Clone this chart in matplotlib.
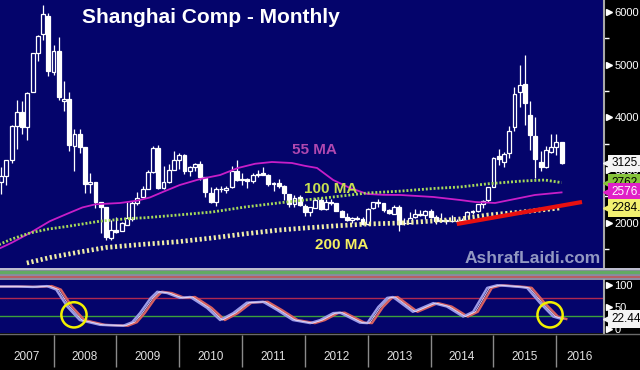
import matplotlib
matplotlib.use("Agg")
import matplotlib.pyplot as plt
import matplotlib.transforms as mtransforms
from matplotlib.patches import Rectangle
import numpy as np

plt.rcParams['font.family'] = ['Liberation Sans', 'DejaVu Sans']

# Shanghai Composite monthly candles, month 0 = Jan 2007 ... month 108 = Jan 2016
opens = [2715, 2780, 2881, 3197, 3845, 4101, 3822, 4477, 5221, 5583, 5915, 4868,
         5265, 4320, 4349, 3460, 3690, 3440, 2726, 2777, 2398, 2293, 1719, 1870,
         1849, 1960, 2076, 2376, 2486, 2640, 2963, 3420, 2661, 2781, 2997, 3190,
         3289, 2984, 3058, 3114, 2860, 2564, 2391, 2640, 2631, 2677, 2990, 2830,
         2825, 2799, 2899, 2937, 2912, 2743, 2760, 2706, 2550, 2350, 2480, 2323,
         2212, 2284, 2433, 2260, 2398, 2372, 2224, 2105, 2048, 2089, 2065, 1978,
         2289, 2385, 2371, 2234, 2175, 2305, 1998, 1996, 2101, 2170, 2141, 2215,
         2112, 2033, 2053, 2034, 2024, 2040, 2049, 2203, 2214, 2365, 2426, 2681,
         3258, 3148, 3328, 3810, 4479, 4633, 4053, 3643, 3157, 3062, 3337, 3441,
         3536]
highs = [2994, 3049, 3192, 3848, 4335, 4312, 4476, 5218, 5562, 6124, 5972, 5366,
         5522, 4695, 4473, 3786, 3786, 3440, 2952, 2780, 2399, 2293, 2046, 2100,
         2016, 2402, 2408, 2580, 2688, 3000, 3454, 3478, 3068, 3123, 3361, 3319,
         3306, 3080, 3130, 3181, 2860, 2687, 2683, 2690, 2689, 3073, 3186, 2939,
         2853, 2940, 3002, 3067, 2932, 2768, 2827, 2715, 2550, 2536, 2536, 2355,
         2301, 2478, 2478, 2454, 2453, 2373, 2234, 2192, 2109, 2132, 2113, 2276,
         2400, 2444, 2332, 2268, 2335, 2334, 2092, 2198, 2270, 2242, 2245, 2260,
         2150, 2177, 2071, 2146, 2062, 2087, 2222, 2248, 2364, 2431, 2683, 3239,
         3406, 3346, 3835, 4572, 4986, 5178, 4318, 4006, 3357, 3457, 3678, 3684,
         3539]
lows = [2605, 2541, 2723, 3143, 3404, 3690, 3563, 4476, 5070, 5462, 4778, 4812,
        4330, 4123, 3357, 2990, 3333, 2567, 2566, 2284, 1802, 1665, 1678, 1814,
        1844, 1960, 2037, 2340, 2484, 2640, 2942, 2639, 2639, 2760, 2994, 3020,
        2923, 2890, 2975, 2820, 2481, 2382, 2319, 2590, 2573, 2661, 2796, 2721,
        2661, 2759, 2861, 2900, 2698, 2611, 2660, 2437, 2307, 2307, 2319, 2134,
        2132, 2281, 2242, 2245, 2346, 2223, 2100, 2030, 1999, 2055, 1959, 1949,
        2264, 2295, 2202, 2161, 2166, 1849, 1951, 1988, 2093, 2123, 2075, 2082,
        1984, 2018, 1974, 2013, 1991, 2010, 2040, 2175, 2195, 2287, 2393, 2681,
        3095, 3049, 3230, 3744, 4199, 3847, 3373, 2850, 2983, 3039, 3327, 3284,
        3115]
closes = [2786, 2881, 3183, 3841, 4109, 3820, 4471, 5218, 5552, 5954, 4871, 5262,
          4383, 4348, 3473, 3693, 3433, 2736, 2775, 2397, 2293, 1729, 1871, 1821,
          1991, 2082, 2374, 2477, 2633, 2959, 3412, 2667, 2779, 2996, 3195, 3277,
          2989, 3051, 3110, 2871, 2592, 2398, 2638, 2638, 2656, 2979, 2820, 2808,
          2790, 2905, 2928, 2911, 2743, 2762, 2701, 2568, 2359, 2469, 2333, 2199,
          2292, 2428, 2263, 2397, 2373, 2225, 2103, 2047, 2086, 2069, 1980, 2269,
          2385, 2366, 2237, 2178, 2301, 1979, 1994, 2098, 2175, 2141, 2220, 2116,
          2033, 2056, 2033, 2026, 2039, 2048, 2202, 2217, 2364, 2420, 2683, 3235,
          3210, 3310, 3748, 4442, 4612, 4277, 3664, 3206, 3053, 3383, 3445, 3539,
          3125]
months = list(range(len(closes)))

# moving averages (month index, level)
ma55_m = [0, 3, 6.5, 10.3, 13.6, 16.5, 19, 23.7, 27, 29.4, 32, 35.1, 39, 42.8,
          46.2, 49.5, 52.7, 56.5, 59, 61.3, 64.4, 67.6, 70.9, 74, 77.2, 83.5,
          88.6, 91.5, 95.3, 99.1, 102.9, 108]
ma55_v = [1480, 1620, 1806, 2030, 2170, 2290, 2350, 2375, 2420, 2480, 2590, 2716,
          2830, 2906, 3039, 3120, 3153, 3134, 3080, 3040, 2811, 2660, 2546, 2530,
          2527, 2489, 2432, 2394, 2375, 2451, 2527, 2576]
ma100_m = [0, 3, 6.5, 10, 13.6, 19.9, 25.4, 28.5, 34.8, 41.3, 47.6, 53.9, 59,
           64.4, 70.9, 77.2, 83.5, 88.6, 94, 100.5, 104.8, 108]
ma100_v = [1560, 1690, 1806, 1880, 1930, 2030, 2080, 2095, 2147, 2204, 2299, 2375,
           2432, 2489, 2565, 2600, 2650, 2679, 2740, 2792, 2811, 2762]
ma200_m = [5.9, 10.3, 16, 21, 28, 34.8, 41.3, 47.6, 53.9, 59, 64.4, 70.9, 77.2,
           83.5, 88.6, 94, 100.5, 108]
ma200_v = [1236, 1340, 1445, 1530, 1590, 1640, 1711, 1790, 1860, 1900, 1938, 1976,
           1995, 2033, 2071, 2147, 2204, 2284]
trend_m = [88.0, 111.9]
trend_v = [1976, 2394]

# stochastic oscillator
osc_m = np.array([0, 4, 7, 9.75, 11.5, 13.6, 16, 19.9, 24.3, 26, 27.5, 29.5, 30.8,
                  32.7, 35.1, 37.1, 40.3, 42.8, 45.3, 47.9, 51, 53.7, 56.7, 60, 61.9,
                  64.4, 65.7, 69.5, 70.9, 73, 74.7, 75.8, 79.6, 83.5, 86.1, 89.2,
                  91.1, 93.8, 95.7, 98, 100.1, 101.4, 103.9, 106.4, 108])
osc_v = np.array([97, 97, 96, 98, 90, 51, 20, 9, 7, 15, 36, 70, 85,
                  82, 71, 73, 48, 20, 36, 60, 62, 43, 20, 13, 20,
                  36, 37, 14, 13, 50, 71, 73, 39, 59, 51, 28,
                  39, 94, 100, 98, 96, 94, 59, 28, 22.44])
circle_m = [14.9, 105.8]
circle_v = [32, 32]

years = list(range(2007, 2017))
price_ticks = [2000, 3000, 4000, 5000, 6000]
price_minor = [1500, 2500, 3500, 4500, 5500]
osc_ticks = [0, 50, 100]
osc_levels = [70, 30]
last_price = 3125
last_ma100 = 2762
last_ma55 = 2576
last_ma200 = 2284
last_osc = 22.44

NAVY = '#04046b'
XL, XR = 0.777, 116.1

fig = plt.figure(figsize=(6.4, 3.7), dpi=100, facecolor='black')

# ---- price panel
ax = fig.add_axes([0, 102 / 370, 604 / 640, 268 / 370], facecolor=NAVY)
ax.set_xlim(XL, XR)
ax.set_ylim(1141, 6228)

w = 0.74
for m, o, h, l, c in zip(months, opens, highs, lows, closes):
    ax.plot([m, m], [l, h], color='white', lw=0.9, zorder=3, solid_capstyle='butt')
    up = c >= o
    ax.add_patch(Rectangle((m - w / 2, min(o, c)), w, max(abs(c - o), 10),
                           facecolor=NAVY if up else 'white', edgecolor='white',
                           lw=0.9, zorder=4))

ax.plot(ma55_m, ma55_v, color='#c81ec8', lw=1.3, zorder=5)
ax.plot(ma100_m, ma100_v, color='#a8dc5a', lw=2.0, ls=(0, (0.7, 0.7)), zorder=5)
ax.plot(ma200_m, ma200_v, color='#f0eea8', lw=3.4, ls=(0, (0.45, 0.55)), zorder=5)
ax.plot(trend_m, trend_v, color='#e81010', lw=3.0, zorder=6, solid_capstyle='butt')

ax.text(82 / 604, 1 - 22.7 / 268, 'Shanghai Comp - Monthly', transform=ax.transAxes,
        fontsize=15, fontweight='bold', color='white', ha='left', va='baseline')
ax.text(60.8, 3305, '55 MA', fontsize=11, fontweight='bold', color='#b048b0',
        ha='center', va='baseline', zorder=7)
ax.text(64.0, 2570, '100 MA', fontsize=11, fontweight='bold', color='#c8e050',
        ha='center', va='baseline', zorder=7)
ax.text(66.0, 1502, '200 MA', fontsize=11, fontweight='bold', color='#f4f060',
        ha='center', va='baseline', zorder=7)
ax.text(532.5 / 604, 1 - 258.5 / 268, 'AshrafLaidi.com', transform=ax.transAxes,
        fontsize=12.5, fontweight='bold', color='#9298c2', ha='center', va='center',
        zorder=7)

for s in ['top', 'left', 'bottom']:
    ax.spines[s].set_visible(False)
ax.spines['right'].set_color('#a8a8a8')
ax.spines['right'].set_linewidth(1.5)
ax.set_xticks([])
ax.yaxis.tick_right()
ax.set_yticks(price_ticks)
ax.set_yticks(price_minor, minor=True)
ax.tick_params(axis='y', which='major', length=0, pad=7.5, labelcolor='white',
               labelsize=8)
ax.tick_params(axis='y', which='minor', length=3.5, width=1, color='white')
tr = mtransforms.blended_transform_factory(ax.transAxes, ax.transData)
ax.plot([1.0075] * len(price_ticks), price_ticks, transform=tr, marker='>', ms=4.5,
        color='white', ls='none', clip_on=False)


def tag(axis, y, text, fc, tc, z):
    t = mtransforms.blended_transform_factory(axis.transAxes, axis.transData)
    axis.plot([1.008], [y], transform=t, marker='<', ms=8, color=fc, ls='none',
              clip_on=False, zorder=z)
    axis.text(1.0118, y, text, transform=t, ha='left', va='center', fontsize=8.5,
              color=tc, clip_on=False, zorder=z,
              bbox=dict(boxstyle='square,pad=0.25', fc=fc, ec='none'))


tag(ax, last_ma100, '%d.' % last_ma100, '#86c43a', 'black', 10)
tag(ax, last_ma55, '%d.' % last_ma55, '#e020c8', 'white', 11)
tag(ax, last_ma200, '%d.' % last_ma200, '#f2f070', 'black', 12)
tag(ax, last_price, '%d.' % last_price, '#f4f4f4', 'black', 13)

# ---- collapsed strip between panels
ax_s = fig.add_axes([0, 90 / 370, 1, 12 / 370], facecolor='#8a8aa4')
ax_s.set_xlim(0, 1)
ax_s.set_ylim(0, 12)
ax_s.add_patch(Rectangle((0, 0), 1, 12, facecolor='#8a8aa4', zorder=0))
ax_s.axhline(11.3, color='#c8c8d8', lw=1.2)
ax_s.axhline(8.3, color='#62aa62', lw=2.4)
ax_s.axhline(3.4, color='#c05858', lw=1.2)
ax_s.axis('off')

# ---- oscillator panel
ax2 = fig.add_axes([0, 37 / 370, 604 / 640, 53 / 370], facecolor=NAVY)
ax2.set_xlim(XL, XR)
ax2.set_ylim(-9.7, 112)
ax2.axhline(osc_levels[0], color='#b02850', lw=1)
ax2.axhline(osc_levels[1], color='#3ca03c', lw=1)
ax2.plot(osc_m + 0.9, osc_v, color='#d86060', lw=1.7, zorder=3)
ax2.plot(osc_m, osc_v, color='#9a9ae8', lw=1.7, zorder=4)
ax2.plot(osc_m + 0.45, osc_v, color='#f2dcea', lw=0.6, zorder=5)
ax2.scatter(circle_m, circle_v, s=330, facecolors='none', edgecolors='#f2f000',
            linewidths=1.8, zorder=6)
for s in ['top', 'left', 'bottom']:
    ax2.spines[s].set_visible(False)
ax2.spines['right'].set_color('#a8a8a8')
ax2.spines['right'].set_linewidth(1.5)
ax2.set_xticks([])
ax2.yaxis.tick_right()
ax2.set_yticks(osc_ticks)
ax2.tick_params(axis='y', length=0, pad=7.5, labelcolor='white', labelsize=8)
tr2 = mtransforms.blended_transform_factory(ax2.transAxes, ax2.transData)
ax2.plot([1.0075] * len(osc_ticks), osc_ticks, transform=tr2, marker='>', ms=4.5,
         color='white', ls='none', clip_on=False)
tag(ax2, last_osc, '%.2f' % last_osc, '#f4f4f4', 'black', 13)

# ---- year strip
ax_y = fig.add_axes([0, 0, 1, 37 / 370], facecolor='black')
ax_y.set_xlim(XL, (640 + 4.07) / 5.237)
ax_y.set_ylim(0, 37)
ax_y.axhline(36.4, color='#6a6a6a', lw=1)
seps = [12 * (y - 2007) - 1 for y in years[1:]]
ax_y.vlines(seps, 3, 35, color='#8a8a8a', lw=1)
bounds = [XL] + seps + [XR]
for i, y in enumerate(years):
    ax_y.text((bounds[i] + bounds[i + 1]) / 2, 13, str(y), color='#e2e2e2',
              fontsize=8.5, ha='center', va='center')
ax_y.axis('off')

fig.savefig('out.png', dpi=100, facecolor='black')
